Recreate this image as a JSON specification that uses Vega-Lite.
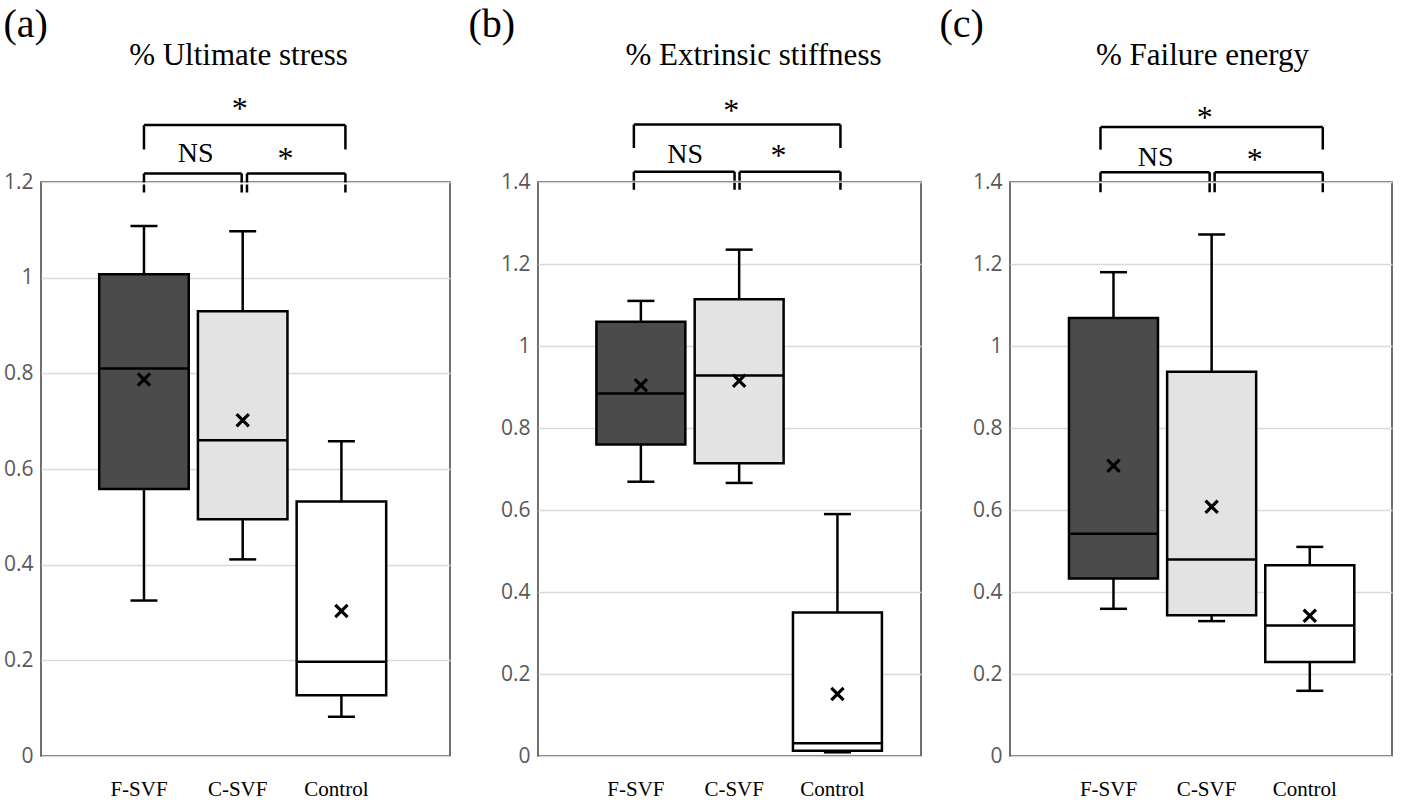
{
"$schema":"https://vega.github.io/schema/vega-lite/v6.json",
"background":"white",
"padding":{"left":2,"top":3,"right":5,"bottom":2},
"datasets":{
"stats":[
{"panel":"a","group":"F-SVF","min":0.325,"q1":0.558,"median":0.81,"q3":1.007,"max":1.108,"mean":0.787},
{"panel":"a","group":"C-SVF","min":0.411,"q1":0.495,"median":0.66,"q3":0.93,"max":1.097,"mean":0.702},
{"panel":"a","group":"Control","min":0.082,"q1":0.127,"median":0.197,"q3":0.532,"max":0.658,"mean":0.303},
{"panel":"b","group":"F-SVF","min":0.669,"q1":0.76,"median":0.884,"q3":1.059,"max":1.11,"mean":0.904},
{"panel":"b","group":"C-SVF","min":0.666,"q1":0.714,"median":0.928,"q3":1.114,"max":1.235,"mean":0.915},
{"panel":"b","group":"Control","min":0.009,"q1":0.013,"median":0.031,"q3":0.35,"max":0.59,"mean":0.151},
{"panel":"c","group":"F-SVF","min":0.359,"q1":0.433,"median":0.542,"q3":1.068,"max":1.18,"mean":0.708},
{"panel":"c","group":"C-SVF","min":0.329,"q1":0.343,"median":0.479,"q3":0.937,"max":1.272,"mean":0.608},
{"panel":"c","group":"Control","min":0.159,"q1":0.229,"median":0.318,"q3":0.465,"max":0.51,"mean":0.342}
],
"brackets":[
{"panel":"a","level":"top","from":"F-SVF","to":"Control","at":"C-SVF","y":1.319,"yEnd":1.268,"label":"*","labelY":1.331},
{"panel":"a","level":"left","from":"F-SVF","to":"C-SVF","at":"C-SVF","y":1.218,"yEnd":1.178,"label":"NS","labelY":1.241},
{"panel":"a","level":"right","from":"C-SVF","to":"Control","at":"Control","y":1.218,"yEnd":1.178,"label":"*","labelY":1.227},
{"panel":"b","level":"top","from":"F-SVF","to":"Control","at":"C-SVF","y":1.54,"yEnd":1.483,"label":"*","labelY":1.549},
{"panel":"b","level":"left","from":"F-SVF","to":"C-SVF","at":"C-SVF","y":1.425,"yEnd":1.381,"label":"NS","labelY":1.447},
{"panel":"b","level":"right","from":"C-SVF","to":"Control","at":"Control","y":1.425,"yEnd":1.381,"label":"*","labelY":1.44},
{"panel":"c","level":"top","from":"F-SVF","to":"Control","at":"C-SVF","y":1.534,"yEnd":1.479,"label":"*","labelY":1.532},
{"panel":"c","level":"left","from":"F-SVF","to":"C-SVF","at":"C-SVF","y":1.424,"yEnd":1.371,"label":"NS","labelY":1.439},
{"panel":"c","level":"right","from":"C-SVF","to":"Control","at":"Control","y":1.424,"yEnd":1.371,"label":"*","labelY":1.429}
]
},
"hconcat":[
{
"width":409,"height":574,
"resolve":{"axis":{"x":"independent"}},
"layer":[
{"data":{"name":"stats"},"transform":[{"filter":"datum.panel==='a'"}],"mark":{"type":"rule","stroke":"black","strokeWidth":2.5},
"encoding":{"x":{"field":"group","type":"nominal","scale":{"type":"band","domain":["F-SVF","C-SVF","Control"],"paddingInner":0.093,"paddingOuter":0.618,"align":0.477},"axis":{"orient":"bottom","title":null}},
"y":{"field":"min","type":"quantitative","scale":{"domain":[0,1.2],"nice":false,"zero":false},"axis":{"values":[0,0.2,0.4,0.6,0.8,1,1.2],"format":"~g","grid":true,"title":"(a)","titleX":-38}},
"y2":{"field":"max"}}},
{"data":{"name":"stats"},"transform":[{"filter":"datum.panel==='a'"}],"mark":{"type":"bar","stroke":"black","strokeWidth":2.5},
"encoding":{"x":{"field":"group","type":"nominal","axis":null},"y":{"field":"q1","type":"quantitative"},"y2":{"field":"q3"},
"fill":{"field":"group","type":"nominal","scale":{"domain":["F-SVF","C-SVF","Control"],"range":["#4b4b4b","#e3e3e3","#ffffff"]},"legend":null}}},
{"data":{"name":"stats"},"transform":[{"filter":"datum.panel==='a'"}],"mark":{"type":"tick","color":"black","size":89,"thickness":2.5,"opacity":1},
"encoding":{"x":{"field":"group","type":"nominal","axis":null},"y":{"field":"median","type":"quantitative"}}},
{"data":{"name":"stats"},"transform":[{"filter":"datum.panel==='a'"}],"mark":{"type":"tick","color":"black","size":27,"thickness":2.5,"opacity":1},
"encoding":{"x":{"field":"group","type":"nominal","axis":null},"y":{"field":"min","type":"quantitative"}}},
{"data":{"name":"stats"},"transform":[{"filter":"datum.panel==='a'"}],"mark":{"type":"tick","color":"black","size":27,"thickness":2.5,"opacity":1},
"encoding":{"x":{"field":"group","type":"nominal","axis":null},"y":{"field":"max","type":"quantitative"}}},
{"data":{"name":"stats"},"transform":[{"filter":"datum.panel==='a'"}],"mark":{"type":"point","shape":"M-1,-1L1,1M-1,1L1,-1","size":150,"filled":false,"stroke":"black","strokeWidth":3.2,"opacity":1},
"encoding":{"x":{"field":"group","type":"nominal","axis":null},"y":{"field":"mean","type":"quantitative"}}},
{"data":{"name":"brackets"},"transform":[{"filter":"datum.panel==='a' && datum.level==='top'"}],"mark":{"type":"rule","stroke":"black","strokeWidth":2.5,"x2Offset":4},
"encoding":{"x":{"field":"from","type":"nominal","axis":{"orient":"top","labels":false,"title":"% Ultimate stress","titleX":197}},"x2":{"field":"to"},"y":{"field":"y","type":"quantitative"}}},
{"data":{"name":"brackets"},"transform":[{"filter":"datum.panel==='a' && datum.level==='top'"}],"mark":{"type":"rule","stroke":"black","strokeWidth":2.5},
"encoding":{"x":{"field":"from","type":"nominal","axis":null},"y":{"field":"y","type":"quantitative"},"y2":{"field":"yEnd"}}},
{"data":{"name":"brackets"},"transform":[{"filter":"datum.panel==='a' && datum.level==='top'"}],"mark":{"type":"rule","stroke":"black","strokeWidth":2.5,"xOffset":4},
"encoding":{"x":{"field":"to","type":"nominal","axis":null},"y":{"field":"y","type":"quantitative"},"y2":{"field":"yEnd"}}},
{"data":{"name":"brackets"},"transform":[{"filter":"datum.panel==='a' && datum.level==='left'"}],"mark":{"type":"rule","stroke":"black","strokeWidth":2.5,"x2Offset":-1},
"encoding":{"x":{"field":"from","type":"nominal","axis":null},"x2":{"field":"to"},"y":{"field":"y","type":"quantitative"}}},
{"data":{"name":"brackets"},"transform":[{"filter":"datum.panel==='a' && datum.level==='right'"}],"mark":{"type":"rule","stroke":"black","strokeWidth":2.5,"xOffset":4.3,"x2Offset":4},
"encoding":{"x":{"field":"from","type":"nominal","axis":null},"x2":{"field":"to"},"y":{"field":"y","type":"quantitative"}}},
{"data":{"name":"brackets"},"transform":[{"filter":"datum.panel==='a' && datum.level==='left'"}],"mark":{"type":"rule","stroke":"black","strokeWidth":2.5,"strokeDash":[9,2]},
"encoding":{"x":{"field":"from","type":"nominal","axis":null},"y":{"field":"y","type":"quantitative"},"y2":{"field":"yEnd"}}},
{"data":{"name":"brackets"},"transform":[{"filter":"datum.panel==='a' && datum.level==='left'"}],"mark":{"type":"rule","stroke":"black","strokeWidth":2.5,"strokeDash":[9,2],"xOffset":-1},
"encoding":{"x":{"field":"to","type":"nominal","axis":null},"y":{"field":"y","type":"quantitative"},"y2":{"field":"yEnd"}}},
{"data":{"name":"brackets"},"transform":[{"filter":"datum.panel==='a' && datum.level==='right'"}],"mark":{"type":"rule","stroke":"black","strokeWidth":2.5,"strokeDash":[9,2],"xOffset":4.3},
"encoding":{"x":{"field":"from","type":"nominal","axis":null},"y":{"field":"y","type":"quantitative"},"y2":{"field":"yEnd"}}},
{"data":{"name":"brackets"},"transform":[{"filter":"datum.panel==='a' && datum.level==='right'"}],"mark":{"type":"rule","stroke":"black","strokeWidth":2.5,"strokeDash":[9,2],"xOffset":4},
"encoding":{"x":{"field":"to","type":"nominal","axis":null},"y":{"field":"y","type":"quantitative"},"y2":{"field":"yEnd"}}},
{"data":{"name":"brackets"},"transform":[{"filter":"datum.panel==='a' && datum.level==='top'"}],"mark":{"type":"text","font":"Liberation Serif","fontSize":32,"color":"black","baseline":"alphabetic","align":"center","dx":-3},
"encoding":{"x":{"field":"at","type":"nominal","axis":null},"y":{"field":"labelY","type":"quantitative"},"text":{"field":"label"}}},
{"data":{"name":"brackets"},"transform":[{"filter":"datum.panel==='a' && datum.level==='left'"}],"mark":{"type":"text","font":"Liberation Serif","fontSize":28,"color":"black","baseline":"alphabetic","align":"center","dx":-47},
"encoding":{"x":{"field":"at","type":"nominal","axis":null},"y":{"field":"labelY","type":"quantitative"},"text":{"field":"label"}}},
{"data":{"name":"brackets"},"transform":[{"filter":"datum.panel==='a' && datum.level==='right'"}],"mark":{"type":"text","font":"Liberation Serif","fontSize":32,"color":"black","baseline":"alphabetic","align":"center","dx":-56},
"encoding":{"x":{"field":"at","type":"nominal","axis":null},"y":{"field":"labelY","type":"quantitative"},"text":{"field":"label"}}}
]
},
{
"width":383,"height":574,
"resolve":{"axis":{"x":"independent"}},
"layer":[
{"data":{"name":"stats"},"transform":[{"filter":"datum.panel==='b'"}],"mark":{"type":"rule","stroke":"black","strokeWidth":2.5},
"encoding":{"x":{"field":"group","type":"nominal","scale":{"type":"band","domain":["F-SVF","C-SVF","Control"],"paddingInner":0.095,"paddingOuter":0.496,"align":0.599},"axis":{"orient":"bottom","title":null}},
"y":{"field":"min","type":"quantitative","scale":{"domain":[0,1.4],"nice":false,"zero":false},"axis":{"values":[0,0.2,0.4,0.6,0.8,1,1.2,1.4],"format":"~g","grid":true,"title":"(b)","titleX":-70}},
"y2":{"field":"max"}}},
{"data":{"name":"stats"},"transform":[{"filter":"datum.panel==='b'"}],"mark":{"type":"bar","stroke":"black","strokeWidth":2.5},
"encoding":{"x":{"field":"group","type":"nominal","axis":null},"y":{"field":"q1","type":"quantitative"},"y2":{"field":"q3"},
"fill":{"field":"group","type":"nominal","scale":{"domain":["F-SVF","C-SVF","Control"],"range":["#4b4b4b","#e3e3e3","#ffffff"]},"legend":null}}},
{"data":{"name":"stats"},"transform":[{"filter":"datum.panel==='b'"}],"mark":{"type":"tick","color":"black","size":89,"thickness":2.5,"opacity":1},
"encoding":{"x":{"field":"group","type":"nominal","axis":null},"y":{"field":"median","type":"quantitative"}}},
{"data":{"name":"stats"},"transform":[{"filter":"datum.panel==='b'"}],"mark":{"type":"tick","color":"black","size":27,"thickness":2.5,"opacity":1},
"encoding":{"x":{"field":"group","type":"nominal","axis":null},"y":{"field":"min","type":"quantitative"}}},
{"data":{"name":"stats"},"transform":[{"filter":"datum.panel==='b'"}],"mark":{"type":"tick","color":"black","size":27,"thickness":2.5,"opacity":1},
"encoding":{"x":{"field":"group","type":"nominal","axis":null},"y":{"field":"max","type":"quantitative"}}},
{"data":{"name":"stats"},"transform":[{"filter":"datum.panel==='b'"}],"mark":{"type":"point","shape":"M-1,-1L1,1M-1,1L1,-1","size":150,"filled":false,"stroke":"black","strokeWidth":3.2,"opacity":1},
"encoding":{"x":{"field":"group","type":"nominal","axis":null},"y":{"field":"mean","type":"quantitative"}}},
{"data":{"name":"brackets"},"transform":[{"filter":"datum.panel==='b' && datum.level==='top'"}],"mark":{"type":"rule","stroke":"black","strokeWidth":2.5,"xOffset":-7,"x2Offset":3},
"encoding":{"x":{"field":"from","type":"nominal","axis":{"orient":"top","labels":false,"title":"% Extrinsic stiffness","titleX":215}},"x2":{"field":"to"},"y":{"field":"y","type":"quantitative"}}},
{"data":{"name":"brackets"},"transform":[{"filter":"datum.panel==='b' && datum.level==='top'"}],"mark":{"type":"rule","stroke":"black","strokeWidth":2.5,"xOffset":-7},
"encoding":{"x":{"field":"from","type":"nominal","axis":null},"y":{"field":"y","type":"quantitative"},"y2":{"field":"yEnd"}}},
{"data":{"name":"brackets"},"transform":[{"filter":"datum.panel==='b' && datum.level==='top'"}],"mark":{"type":"rule","stroke":"black","strokeWidth":2.5,"xOffset":3},
"encoding":{"x":{"field":"to","type":"nominal","axis":null},"y":{"field":"y","type":"quantitative"},"y2":{"field":"yEnd"}}},
{"data":{"name":"brackets"},"transform":[{"filter":"datum.panel==='b' && datum.level==='left'"}],"mark":{"type":"rule","stroke":"black","strokeWidth":2.5,"xOffset":-7,"x2Offset":-4.6},
"encoding":{"x":{"field":"from","type":"nominal","axis":null},"x2":{"field":"to"},"y":{"field":"y","type":"quantitative"}}},
{"data":{"name":"brackets"},"transform":[{"filter":"datum.panel==='b' && datum.level==='right'"}],"mark":{"type":"rule","stroke":"black","strokeWidth":2.5,"xOffset":0.4,"x2Offset":3},
"encoding":{"x":{"field":"from","type":"nominal","axis":null},"x2":{"field":"to"},"y":{"field":"y","type":"quantitative"}}},
{"data":{"name":"brackets"},"transform":[{"filter":"datum.panel==='b' && datum.level==='left'"}],"mark":{"type":"rule","stroke":"black","strokeWidth":2.5,"strokeDash":[9,2],"xOffset":-7},
"encoding":{"x":{"field":"from","type":"nominal","axis":null},"y":{"field":"y","type":"quantitative"},"y2":{"field":"yEnd"}}},
{"data":{"name":"brackets"},"transform":[{"filter":"datum.panel==='b' && datum.level==='left'"}],"mark":{"type":"rule","stroke":"black","strokeWidth":2.5,"strokeDash":[9,2],"xOffset":-4.6},
"encoding":{"x":{"field":"to","type":"nominal","axis":null},"y":{"field":"y","type":"quantitative"},"y2":{"field":"yEnd"}}},
{"data":{"name":"brackets"},"transform":[{"filter":"datum.panel==='b' && datum.level==='right'"}],"mark":{"type":"rule","stroke":"black","strokeWidth":2.5,"strokeDash":[9,2],"xOffset":0.4},
"encoding":{"x":{"field":"from","type":"nominal","axis":null},"y":{"field":"y","type":"quantitative"},"y2":{"field":"yEnd"}}},
{"data":{"name":"brackets"},"transform":[{"filter":"datum.panel==='b' && datum.level==='right'"}],"mark":{"type":"rule","stroke":"black","strokeWidth":2.5,"strokeDash":[9,2],"xOffset":3},
"encoding":{"x":{"field":"to","type":"nominal","axis":null},"y":{"field":"y","type":"quantitative"},"y2":{"field":"yEnd"}}},
{"data":{"name":"brackets"},"transform":[{"filter":"datum.panel==='b' && datum.level==='top'"}],"mark":{"type":"text","font":"Liberation Serif","fontSize":32,"color":"black","baseline":"alphabetic","align":"center","dx":-8},
"encoding":{"x":{"field":"at","type":"nominal","axis":null},"y":{"field":"labelY","type":"quantitative"},"text":{"field":"label"}}},
{"data":{"name":"brackets"},"transform":[{"filter":"datum.panel==='b' && datum.level==='left'"}],"mark":{"type":"text","font":"Liberation Serif","fontSize":28,"color":"black","baseline":"alphabetic","align":"center","dx":-54},
"encoding":{"x":{"field":"at","type":"nominal","axis":null},"y":{"field":"labelY","type":"quantitative"},"text":{"field":"label"}}},
{"data":{"name":"brackets"},"transform":[{"filter":"datum.panel==='b' && datum.level==='right'"}],"mark":{"type":"text","font":"Liberation Serif","fontSize":32,"color":"black","baseline":"alphabetic","align":"center","dx":-59},
"encoding":{"x":{"field":"at","type":"nominal","axis":null},"y":{"field":"labelY","type":"quantitative"},"text":{"field":"label"}}}
]
},
{
"width":382,"height":574,
"resolve":{"axis":{"x":"independent"}},
"layer":[
{"data":{"name":"stats"},"transform":[{"filter":"datum.panel==='c'"}],"mark":{"type":"rule","stroke":"black","strokeWidth":2.5},
"encoding":{"x":{"field":"group","type":"nominal","scale":{"type":"band","domain":["F-SVF","C-SVF","Control"],"paddingInner":0.093,"paddingOuter":0.4925,"align":0.61},"axis":{"orient":"bottom","title":null}},
"y":{"field":"min","type":"quantitative","scale":{"domain":[0,1.4],"nice":false,"zero":false},"axis":{"values":[0,0.2,0.4,0.6,0.8,1,1.2,1.4],"format":"~g","grid":true,"title":"(c)","titleX":-71}},
"y2":{"field":"max"}}},
{"data":{"name":"stats"},"transform":[{"filter":"datum.panel==='c'"}],"mark":{"type":"bar","stroke":"black","strokeWidth":2.5},
"encoding":{"x":{"field":"group","type":"nominal","axis":null},"y":{"field":"q1","type":"quantitative"},"y2":{"field":"q3"},
"fill":{"field":"group","type":"nominal","scale":{"domain":["F-SVF","C-SVF","Control"],"range":["#4b4b4b","#e3e3e3","#ffffff"]},"legend":null}}},
{"data":{"name":"stats"},"transform":[{"filter":"datum.panel==='c'"}],"mark":{"type":"tick","color":"black","size":89,"thickness":2.5,"opacity":1},
"encoding":{"x":{"field":"group","type":"nominal","axis":null},"y":{"field":"median","type":"quantitative"}}},
{"data":{"name":"stats"},"transform":[{"filter":"datum.panel==='c'"}],"mark":{"type":"tick","color":"black","size":27,"thickness":2.5,"opacity":1},
"encoding":{"x":{"field":"group","type":"nominal","axis":null},"y":{"field":"min","type":"quantitative"}}},
{"data":{"name":"stats"},"transform":[{"filter":"datum.panel==='c'"}],"mark":{"type":"tick","color":"black","size":27,"thickness":2.5,"opacity":1},
"encoding":{"x":{"field":"group","type":"nominal","axis":null},"y":{"field":"max","type":"quantitative"}}},
{"data":{"name":"stats"},"transform":[{"filter":"datum.panel==='c'"}],"mark":{"type":"point","shape":"M-1,-1L1,1M-1,1L1,-1","size":150,"filled":false,"stroke":"black","strokeWidth":3.2,"opacity":1},
"encoding":{"x":{"field":"group","type":"nominal","axis":null},"y":{"field":"mean","type":"quantitative"}}},
{"data":{"name":"brackets"},"transform":[{"filter":"datum.panel==='c' && datum.level==='top'"}],"mark":{"type":"rule","stroke":"black","strokeWidth":2.5,"xOffset":-13,"x2Offset":13},
"encoding":{"x":{"field":"from","type":"nominal","axis":{"orient":"top","labels":false,"title":"% Failure energy","titleX":192}},"x2":{"field":"to"},"y":{"field":"y","type":"quantitative"}}},
{"data":{"name":"brackets"},"transform":[{"filter":"datum.panel==='c' && datum.level==='top'"}],"mark":{"type":"rule","stroke":"black","strokeWidth":2.5,"xOffset":-13},
"encoding":{"x":{"field":"from","type":"nominal","axis":null},"y":{"field":"y","type":"quantitative"},"y2":{"field":"yEnd"}}},
{"data":{"name":"brackets"},"transform":[{"filter":"datum.panel==='c' && datum.level==='top'"}],"mark":{"type":"rule","stroke":"black","strokeWidth":2.5,"xOffset":13},
"encoding":{"x":{"field":"to","type":"nominal","axis":null},"y":{"field":"y","type":"quantitative"},"y2":{"field":"yEnd"}}},
{"data":{"name":"brackets"},"transform":[{"filter":"datum.panel==='c' && datum.level==='left'"}],"mark":{"type":"rule","stroke":"black","strokeWidth":2.5,"xOffset":-13,"x2Offset":-2},
"encoding":{"x":{"field":"from","type":"nominal","axis":null},"x2":{"field":"to"},"y":{"field":"y","type":"quantitative"}}},
{"data":{"name":"brackets"},"transform":[{"filter":"datum.panel==='c' && datum.level==='right'"}],"mark":{"type":"rule","stroke":"black","strokeWidth":2.5,"xOffset":3,"x2Offset":13},
"encoding":{"x":{"field":"from","type":"nominal","axis":null},"x2":{"field":"to"},"y":{"field":"y","type":"quantitative"}}},
{"data":{"name":"brackets"},"transform":[{"filter":"datum.panel==='c' && datum.level==='left'"}],"mark":{"type":"rule","stroke":"black","strokeWidth":2.5,"strokeDash":[9,2],"xOffset":-13},
"encoding":{"x":{"field":"from","type":"nominal","axis":null},"y":{"field":"y","type":"quantitative"},"y2":{"field":"yEnd"}}},
{"data":{"name":"brackets"},"transform":[{"filter":"datum.panel==='c' && datum.level==='left'"}],"mark":{"type":"rule","stroke":"black","strokeWidth":2.5,"strokeDash":[9,2],"xOffset":-2},
"encoding":{"x":{"field":"to","type":"nominal","axis":null},"y":{"field":"y","type":"quantitative"},"y2":{"field":"yEnd"}}},
{"data":{"name":"brackets"},"transform":[{"filter":"datum.panel==='c' && datum.level==='right'"}],"mark":{"type":"rule","stroke":"black","strokeWidth":2.5,"strokeDash":[9,2],"xOffset":3},
"encoding":{"x":{"field":"from","type":"nominal","axis":null},"y":{"field":"y","type":"quantitative"},"y2":{"field":"yEnd"}}},
{"data":{"name":"brackets"},"transform":[{"filter":"datum.panel==='c' && datum.level==='right'"}],"mark":{"type":"rule","stroke":"black","strokeWidth":2.5,"strokeDash":[9,2],"xOffset":13},
"encoding":{"x":{"field":"to","type":"nominal","axis":null},"y":{"field":"y","type":"quantitative"},"y2":{"field":"yEnd"}}},
{"data":{"name":"brackets"},"transform":[{"filter":"datum.panel==='c' && datum.level==='top'"}],"mark":{"type":"text","font":"Liberation Serif","fontSize":32,"color":"black","baseline":"alphabetic","align":"center","dx":-7},
"encoding":{"x":{"field":"at","type":"nominal","axis":null},"y":{"field":"labelY","type":"quantitative"},"text":{"field":"label"}}},
{"data":{"name":"brackets"},"transform":[{"filter":"datum.panel==='c' && datum.level==='left'"}],"mark":{"type":"text","font":"Liberation Serif","fontSize":28,"color":"black","baseline":"alphabetic","align":"center","dx":-56},
"encoding":{"x":{"field":"at","type":"nominal","axis":null},"y":{"field":"labelY","type":"quantitative"},"text":{"field":"label"}}},
{"data":{"name":"brackets"},"transform":[{"filter":"datum.panel==='c' && datum.level==='right'"}],"mark":{"type":"text","font":"Liberation Serif","fontSize":32,"color":"black","baseline":"alphabetic","align":"center","dx":-55},
"encoding":{"x":{"field":"at","type":"nominal","axis":null},"y":{"field":"labelY","type":"quantitative"},"text":{"field":"label"}}}
]
}
],
"config":{
"view":{"stroke":"#404040","strokeWidth":1.5},
"concat":{"spacing":16},
"axisY":{"labelFont":"Open Sans","labelFontSize":21,"labelColor":"#595959","labelPadding":8,"ticks":false,"domain":false,"gridColor":"#d9d9d9","gridWidth":1.5,"titleFont":"Liberation Serif","titleFontSize":40,"titleFontWeight":"normal","titleColor":"black","titleAngle":0,"titleAlign":"left","titleBaseline":"alphabetic","titleY":-146},
"axisX":{"domain":false,"ticks":false,"grid":false,"labelAngle":0,"labelFont":"Liberation Serif","labelFontSize":21,"labelColor":"black","labelPadding":22,"labelOffset":-5,"titleFont":"Liberation Serif","titleFontSize":31,"titleFontWeight":"normal","titleColor":"black","titleAlign":"center","titleBaseline":"alphabetic","titleY":-118}
}
}
